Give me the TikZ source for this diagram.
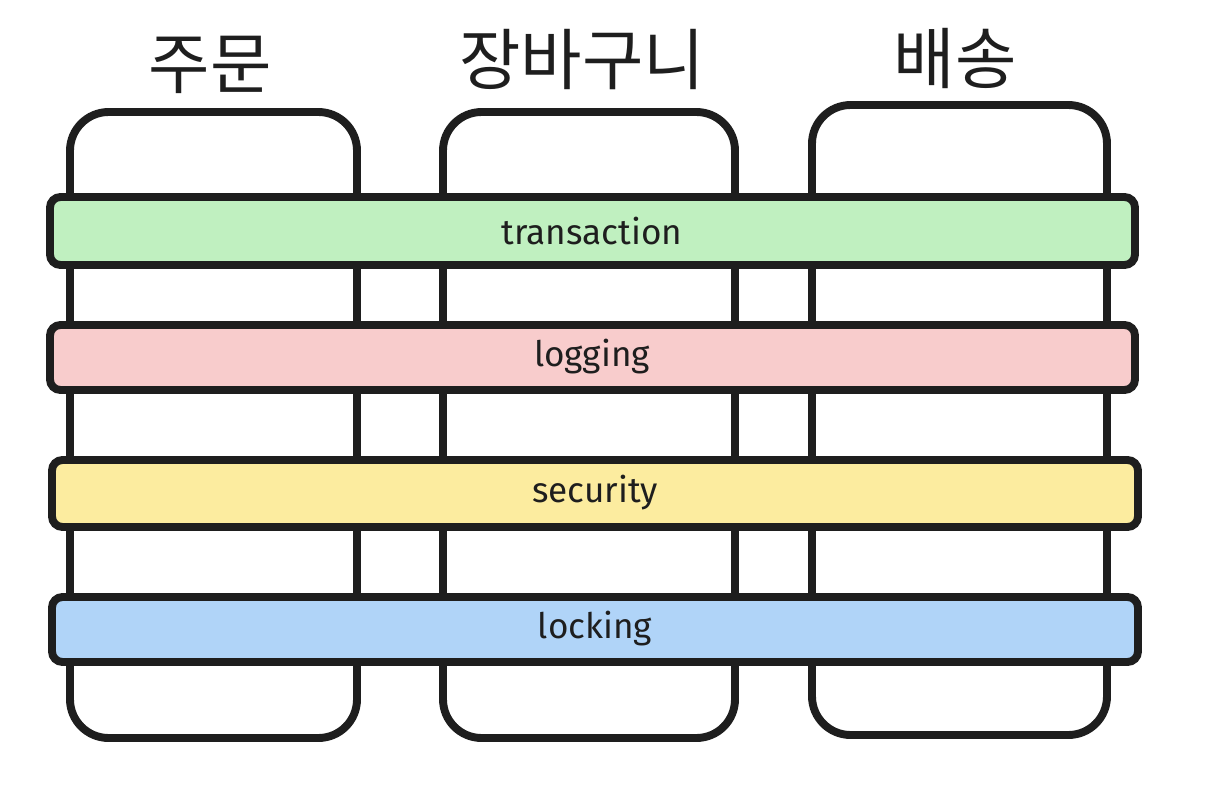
\documentclass[tikz,border=0pt]{standalone}
\usepackage{fontspec}
\setmainfont{Fira Sans}
\newfontfamily\cjk{Noto Sans CJK KR}
\definecolor{cg}{HTML}{C0F0C0}
\definecolor{cr}{HTML}{F8CCCC}
\definecolor{cy}{HTML}{FCEC9F}
\definecolor{cb}{HTML}{B0D4F8}
\definecolor{ink}{HTML}{1E1E1E}
\begin{document}
\begin{tikzpicture}[x=0.02cm,y=-0.02cm,
 col/.style={draw=ink,line width=4.5pt,rounded corners=22pt,fill=white},
 band/.style={draw=ink,line width=4.5pt,rounded corners=6pt},
 blab/.style={font=\fontsize{20}{20}\selectfont,text=ink},
 tit/.style={font=\cjk\fontsize{38}{38}\selectfont,text=ink}]
\useasboundingbox (0,0) rectangle (1224,808);
\draw[col] (70,112) rectangle (357,738);
\draw[col] (443,112) rectangle (735,738);
\draw[col] (812,105) rectangle (1107,735);
\node[tit] (t1) at (210,65) {주문};
\node[tit] (t2) at (582,60) {장바구니};
\node[tit] (t3) at (955,58) {배송};
\draw[band,fill=cg] (50,197) rectangle (1135,265);
\node[blab] (b1) at (592,231) {transaction};
\draw[band,fill=cr] (50,325) rectangle (1135,390);
\node[blab] (b2) at (592,357) {logging};
\draw[band,fill=cy] (52,460) rectangle (1138,527);
\node[blab] (b3) at (595,493) {security};
\draw[band,fill=cb] (52,597) rectangle (1138,662);
\node[blab] (b4) at (595,629) {locking};
\end{tikzpicture}
\end{document}
